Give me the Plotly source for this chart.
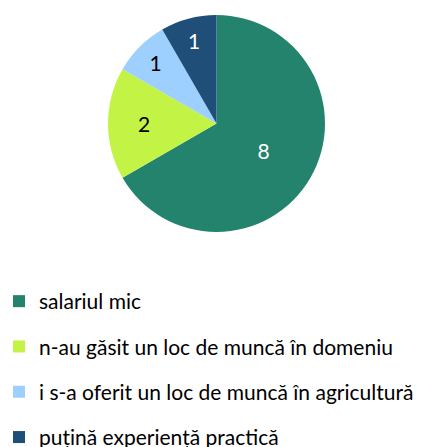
import plotly.graph_objects as go

categories = ["salariul mic", "n-au găsit un loc de muncă în domeniu",
              "i s-a oferit un loc de muncă în agricultură", "puțină experiență practică"]
values = [8, 2, 1, 1]
colors = ["#23836D", "#C3F345", "#9DCFFF", "#1F4E79"]
text_colors = ["white", "black", "black", "white"]

W, H = 431, 447
FONT = "Lato"
fig = go.Figure()
fig.add_trace(go.Pie(
    labels=categories, values=values, sort=False, direction="clockwise", rotation=0,
    marker=dict(colors=colors, line=dict(width=0)),
    textinfo="value", textposition="inside", insidetextorientation="horizontal",
    textfont=dict(color=text_colors, size=21, family=FONT),
    domain=dict(x=[108 / W, 325 / W], y=[1 - 232 / H, 1 - 15 / H]),
    hoverinfo="label+value", showlegend=False,
))
for cat, col in zip(categories, colors):
    fig.add_trace(go.Scatter(
        x=[None], y=[None], mode="markers", name=cat, legendgroup=cat,
        marker=dict(symbol="square", size=14, color=col),
        showlegend=True,
    ))
fig.update_layout(
    width=W, height=H, margin=dict(l=0, r=0, t=0, b=0, autoexpand=False),
    paper_bgcolor="white", plot_bgcolor="white",
    font=dict(family=FONT, size=21, color="#000000"),
    xaxis=dict(visible=False), yaxis=dict(visible=False),
    legend=dict(x=-1 / W, xanchor="left", y=1 - 281 / H, yanchor="top",
                traceorder="grouped", itemsizing="constant",
                font=dict(size=21, family=FONT, color="#000000"),
                tracegroupgap=15, itemwidth=30, bgcolor="rgba(0,0,0,0)"),
    showlegend=True,
)
fig.write_html("out.html", config={"displayModeBar": False},
               post_script="document.body.style.margin='0';")
